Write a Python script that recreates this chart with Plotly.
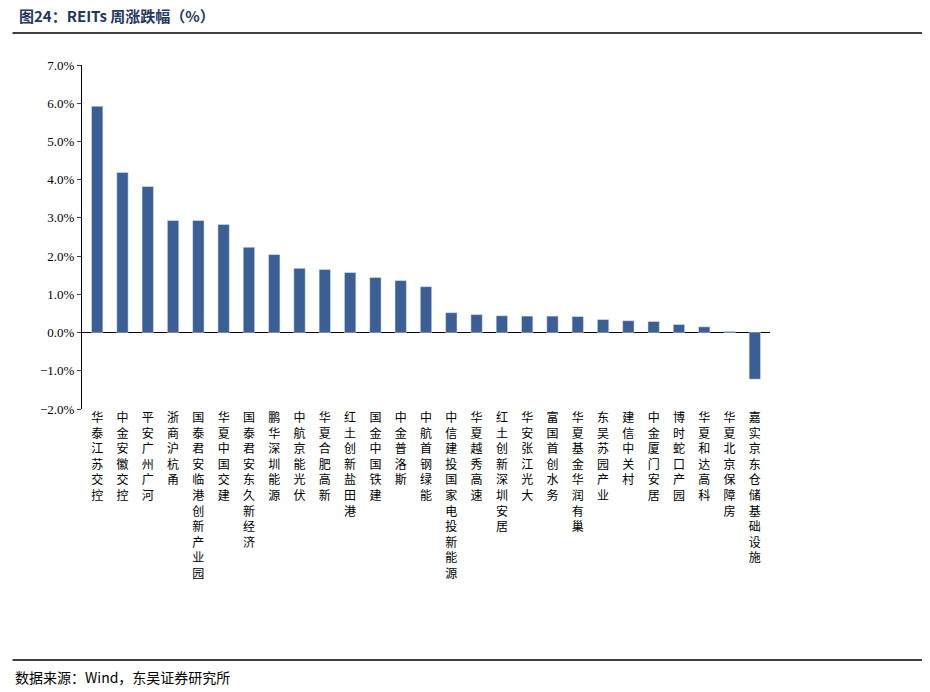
import plotly.graph_objects as go

names = ['华泰江苏交控', '中金安徽交控', '平安广州广河', '浙商沪杭甬', '国泰君安临港创新产业园',
         '华夏中国交建', '国泰君安东久新经济', '鹏华深圳能源', '中航京能光伏', '华夏合肥高新',
         '红土创新盐田港', '国金中国铁建', '中金普洛斯', '中航首钢绿能', '中信建投国家电投新能源',
         '华夏越秀高速', '红土创新深圳安居', '华安张江光大', '富国首创水务', '华夏基金华润有巢',
         '东吴苏园产业', '建信中关村', '中金厦门安居', '博时蛇口产园', '华夏和达高科',
         '华夏北京保障房', '嘉实京东仓储基础设施']
values = [5.92, 4.19, 3.82, 2.93, 2.93, 2.83, 2.23, 2.04, 1.68, 1.65, 1.57, 1.44, 1.36, 1.20,
          0.52, 0.47, 0.44, 0.43, 0.43, 0.42, 0.34, 0.31, 0.29, 0.21, 0.15, 0.03, -1.22]

font = 'Noto Sans CJK SC'
labels = ['<br>'.join(n) for n in names]

fig = go.Figure(go.Bar(x=list(range(len(names))), y=values, marker_color='#3A5F96', width=0.45))

fig.update_xaxes(tickvals=list(range(len(names))), ticktext=labels, tickangle=0,
                 showline=False, ticks='', range=[-0.6, len(names) - 0.4],
                 tickfont=dict(size=12, color='black', family=font))
fig.update_yaxes(range=[-2, 7], dtick=1, tickformat='.1f', ticksuffix='%',
                 showline=True, linecolor='black', ticks='outside', ticklen=4,
                 showgrid=False, zeroline=True, zerolinecolor='black', zerolinewidth=1,
                 tickfont=dict(size=13, color='black', family='Liberation Serif'))

fig.update_layout(
    width=930, height=692, plot_bgcolor='white', paper_bgcolor='white',
    margin=dict(l=74, r=168, t=57, b=291), showlegend=False, bargap=0.5,
    shapes=[
        dict(type='line', xref='paper', yref='paper', x0=-0.101, x1=1.235, y0=1.093, y1=1.093,
             line=dict(color='black', width=1.5)),
        dict(type='line', xref='paper', yref='paper', x0=-0.101, x1=1.235, y0=-0.730, y1=-0.730,
             line=dict(color='black', width=1.5)),
    ],
    annotations=[
        dict(text='<b>图24：REITs 周涨跌幅（%）</b>', xref='paper', yref='paper', x=-0.094, y=1.145,
             xanchor='left', yanchor='middle', showarrow=False,
             font=dict(size=15, color='#1F3864', family=font)),
        dict(text='数据来源：Wind，东吴证券研究所', xref='paper', yref='paper', x=-0.101, y=-0.779,
             xanchor='left', yanchor='middle', showarrow=False,
             font=dict(size=14, color='black', family=font)),
    ],
)

fig.write_html('out.html')
